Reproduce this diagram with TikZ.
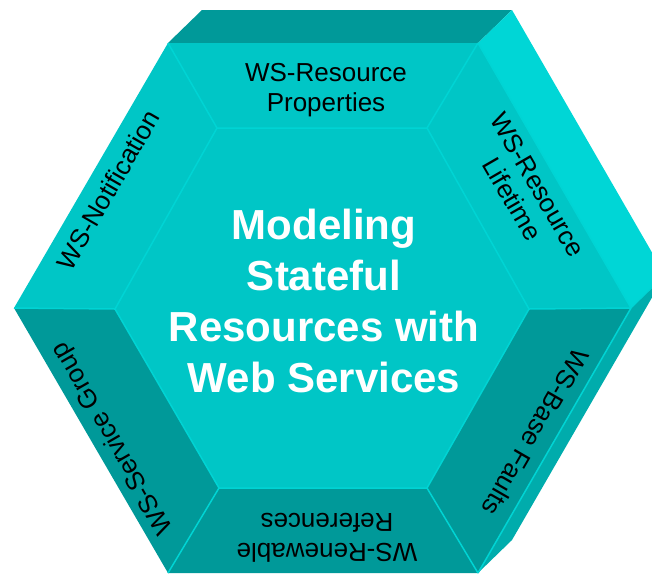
\documentclass[tikz,border=0pt]{standalone}
\usepackage{fontspec}
\setmainfont{Liberation Sans}
\definecolor{tealmid}{RGB}{0,198,198}
\definecolor{tealdark}{RGB}{0,153,153}
\definecolor{tealbright}{RGB}{0,214,214}
\definecolor{tealside}{RGB}{0,172,172}
\definecolor{tealedge}{RGB}{0,212,212}
\begin{document}
\begin{tikzpicture}[x=1pt,y=-1pt,
  edgeline/.style={draw=tealedge,line width=1.5pt,line join=round},
  seglabel/.style={font=\fontsize{26}{29.5}\selectfont,text=black,align=center,inner sep=0pt},
  titlelabel/.style={font=\fontsize{42}{50.7}\selectfont\bfseries,text=white,align=center,inner sep=0pt}]
\useasboundingbox (0,0) rectangle (652,576);
\clip (0,0) rectangle (652,576);
% front outer hexagon
\coordinate (O1) at (168,43);
\coordinate (O2) at (478,43);
\coordinate (O3) at (631,308);
\coordinate (O4) at (478,573);
\coordinate (O5) at (168,573);
\coordinate (O6) at (14,308);
% back (extruded) vertices
\coordinate (B1) at (202,10);
\coordinate (B2) at (512,10);
\coordinate (B3) at (665,275);
\coordinate (B4) at (512,540);
% inner hexagon
\coordinate (I1) at (217,128);
\coordinate (I2) at (427,128);
\coordinate (I3) at (529,309);
\coordinate (I4) at (427,488);
\coordinate (I5) at (219,488);
\coordinate (I6) at (115,309);
% side faces
\fill[tealdark] (O1) -- (B1) -- (B2) -- (O2) -- cycle;
\fill[tealbright] (O2) -- (B2) -- (B3) -- (O3) -- cycle;
\fill[tealside] (O3) -- (B3) -- (B4) -- (O4) -- cycle;
% front segments
\fill[tealmid] (O1) -- (O2) -- (I2) -- (I1) -- cycle;
\fill[tealmid] (O2) -- (O3) -- (I3) -- (I2) -- cycle;
\fill[tealdark] (O3) -- (O4) -- (I4) -- (I3) -- cycle;
\fill[tealdark] (O4) -- (O5) -- (I5) -- (I4) -- cycle;
\fill[tealdark] (O5) -- (O6) -- (I6) -- (I5) -- cycle;
\fill[tealmid] (O6) -- (O1) -- (I1) -- (I6) -- cycle;
\fill[tealmid] (I1) -- (I2) -- (I3) -- (I4) -- (I5) -- (I6) -- cycle;
% highlight edges
\draw[edgeline] (I1) -- (I2) -- (I3) -- (I4) -- (I5) -- (I6) -- cycle;
\draw[edgeline] (O1) -- (I1) (O2) -- (I2) (O3) -- (I3) (O4) -- (I4) (O5) -- (I5) (O6) -- (I6);
\draw[edgeline] (O2) -- (O3) -- (O4);
\draw[edgeline,line width=1pt] (O3) -- (B3);
% labels
\node[titlelabel] (title) at (324,301) {Modeling\\Stateful\\Resources with\\Web Services};
\node[seglabel] (props) at (326,90) {WS-Resource\\Properties};
\node[seglabel,rotate=-60] (life) at (525,192) {WS-Resource\\Lifetime};
\node[seglabel,rotate=-120] (faults) at (536,432) {WS-Base Faults};
\node[seglabel,rotate=180] (renew) at (327,538) {WS-Renewable\\References};
\node[seglabel,rotate=120] (group) at (113,438) {WS-Service Group};
\node[seglabel,rotate=60] (notif) at (108,190) {WS-Notification};
\end{tikzpicture}
\end{document}
